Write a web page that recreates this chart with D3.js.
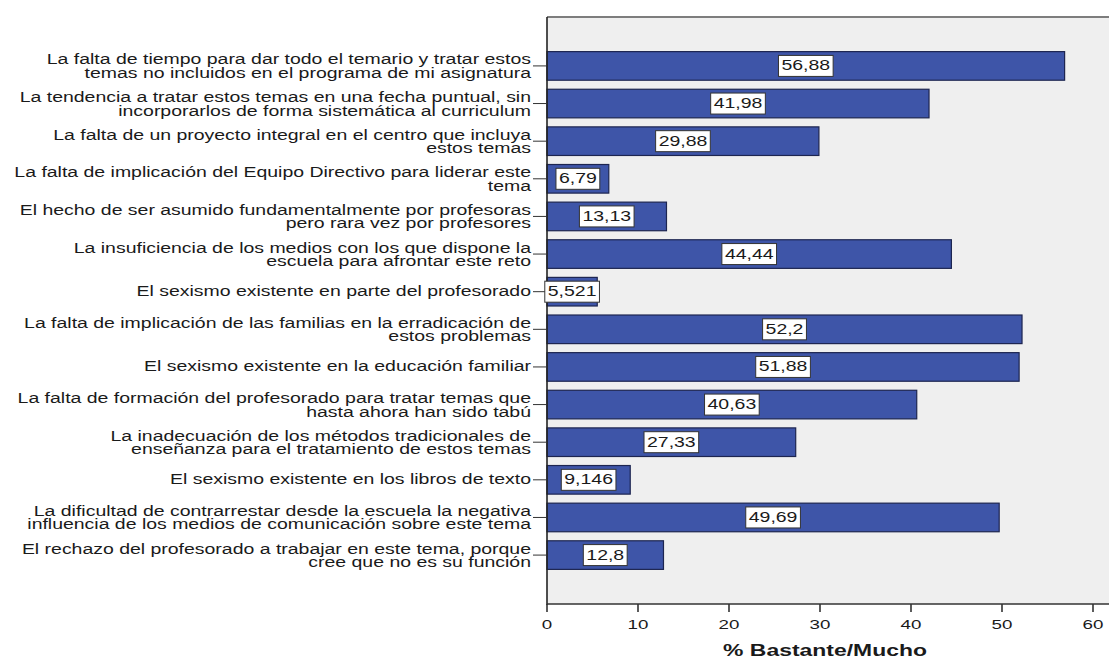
<!DOCTYPE html>
<html><head><meta charset="utf-8">
<script src="https://cdn.jsdelivr.net/npm/d3@7"></script>
<style>html,body{margin:0;padding:0;background:#fff;}svg{display:block;font-family:"Liberation Sans",Arial,sans-serif;}</style>
</head><body><svg id="c" width="1109" height="663"></svg>
<script>
const categories = [
  ["La falta de tiempo para dar todo el temario y tratar estos","temas no incluidos en el programa de mi asignatura"],
  ["La tendencia a tratar estos temas en una fecha puntual, sin","incorporarlos de forma sistemática al curriculum"],
  ["La falta de un proyecto integral en el centro que incluya","estos temas"],
  ["La falta de implicación del Equipo Directivo para liderar este","tema"],
  ["El hecho de ser asumido fundamentalmente por profesoras","pero rara vez por profesores"],
  ["La insuficiencia de los medios con los que dispone la","escuela para afrontar este reto"],
  ["El sexismo existente en parte del profesorado"],
  ["La falta de implicación de las familias en la erradicación de","estos problemas"],
  ["El sexismo existente en la educación familiar"],
  ["La falta de formación del profesorado para tratar temas que","hasta ahora han sido tabú"],
  ["La inadecuación de los métodos tradicionales de","enseñanza para el tratamiento de estos temas"],
  ["El sexismo existente en los libros de texto"],
  ["La dificultad de contrarrestar desde la escuela la negativa","influencia de los medios de comunicación sobre este tema"],
  ["El rechazo del profesorado a trabajar en este tema, porque","cree que no es su función"]
];
const values = [56.88, 41.98, 29.88, 6.79, 13.13, 44.44, 5.521, 52.2, 51.88, 40.63, 27.33, 9.146, 49.69, 12.8];
const valueLabels = ["56,88","41,98","29,88","6,79","13,13","44,44","5,521","52,2","51,88","40,63","27,33","9,146","49,69","12,8"];
const xTicks = [0, 10, 20, 30, 40, 50, 60];
const xTitle = "% Bastante/Mucho";

const SX = 1.39; // horizontal stretch of the original raster text
const svg = d3.select("#c");
const plot = {left: 547, right: 1109, top: 17, bottom: 604};
const x = d3.scaleLinear().domain([0, 60]).range([547, 1093]);
const y = d3.scaleBand().domain(d3.range(categories.length)).range([17, 604]).paddingInner(0.24).paddingOuter(0.92);

function stext(g, tx, ty, str, anchor, size, weight) {
  return g.append("text")
    .attr("transform", `translate(${tx},${ty}) scale(${SX},1)`)
    .attr("text-anchor", anchor).attr("dominant-baseline", "central")
    .attr("font-size", size).attr("font-weight", weight || "normal")
    .attr("fill", "#1a1a1a").text(str);
}

// background
svg.append("rect").attr("x", plot.left).attr("y", plot.top).attr("width", plot.right - plot.left).attr("height", plot.bottom - plot.top).attr("fill", "#efefef");
svg.append("line").attr("x1", plot.left).attr("x2", plot.right).attr("y1", plot.top).attr("y2", plot.top).attr("stroke", "#7d7d7d").attr("stroke-width", 2);

// bars
svg.append("g").selectAll("rect").data(values).join("rect")
  .attr("x", x(0)).attr("y", (d, i) => y(i)).attr("width", d => x(d) - x(0)).attr("height", y.bandwidth())
  .attr("fill", "#3e55a8").attr("stroke", "#1d2550").attr("stroke-width", 1.2);

// axes lines
svg.append("line").attr("x1", plot.left).attr("x2", plot.left).attr("y1", plot.top).attr("y2", plot.bottom + 1).attr("stroke", "#222").attr("stroke-width", 1.6);
svg.append("line").attr("x1", plot.left).attr("x2", plot.right).attr("y1", plot.bottom).attr("y2", plot.bottom).attr("stroke", "#333").attr("stroke-width", 1.6);

// x ticks
const xt = svg.append("g");
xTicks.forEach(t => {
  xt.append("line").attr("x1", x(t)).attr("x2", x(t)).attr("y1", plot.bottom).attr("y2", plot.bottom + 8).attr("stroke", "#333").attr("stroke-width", 1.6);
  stext(xt, x(t), 624, String(t), "middle", 13.5);
});
stext(svg, 825, 650, xTitle, "middle", 16.5, "bold");

// y ticks and labels
const yl = svg.append("g");
categories.forEach((lines, i) => {
  const cy = y(i) + y.bandwidth() / 2;
  yl.append("line").attr("x1", 533).attr("x2", plot.left).attr("y1", cy).attr("y2", cy).attr("stroke", "#333").attr("stroke-width", 1);
  if (lines.length === 1) {
    stext(yl, 531, cy, lines[0], "end", 14);
  } else {
    stext(yl, 531, cy - 6, lines[0], "end", 14);
    stext(yl, 531, cy + 7.5, lines[1], "end", 14);
  }
});

// value labels
const vl = svg.append("g");
values.forEach((v, i) => {
  const cx = (x(0) + x(v)) / 2, cy = y(i) + y.bandwidth() / 2;
  const g = vl.append("g");
  const r = g.append("rect");
  const t = stext(g, cx, cy, valueLabels[i], "middle", 14);
  const w = t.node().getComputedTextLength() * SX + 6;
  r.attr("x", cx - w / 2).attr("y", cy - 10.5).attr("width", w).attr("height", 21).attr("fill", "#fff").attr("stroke", "#333").attr("stroke-width", 1);
});
</script></body></html>
